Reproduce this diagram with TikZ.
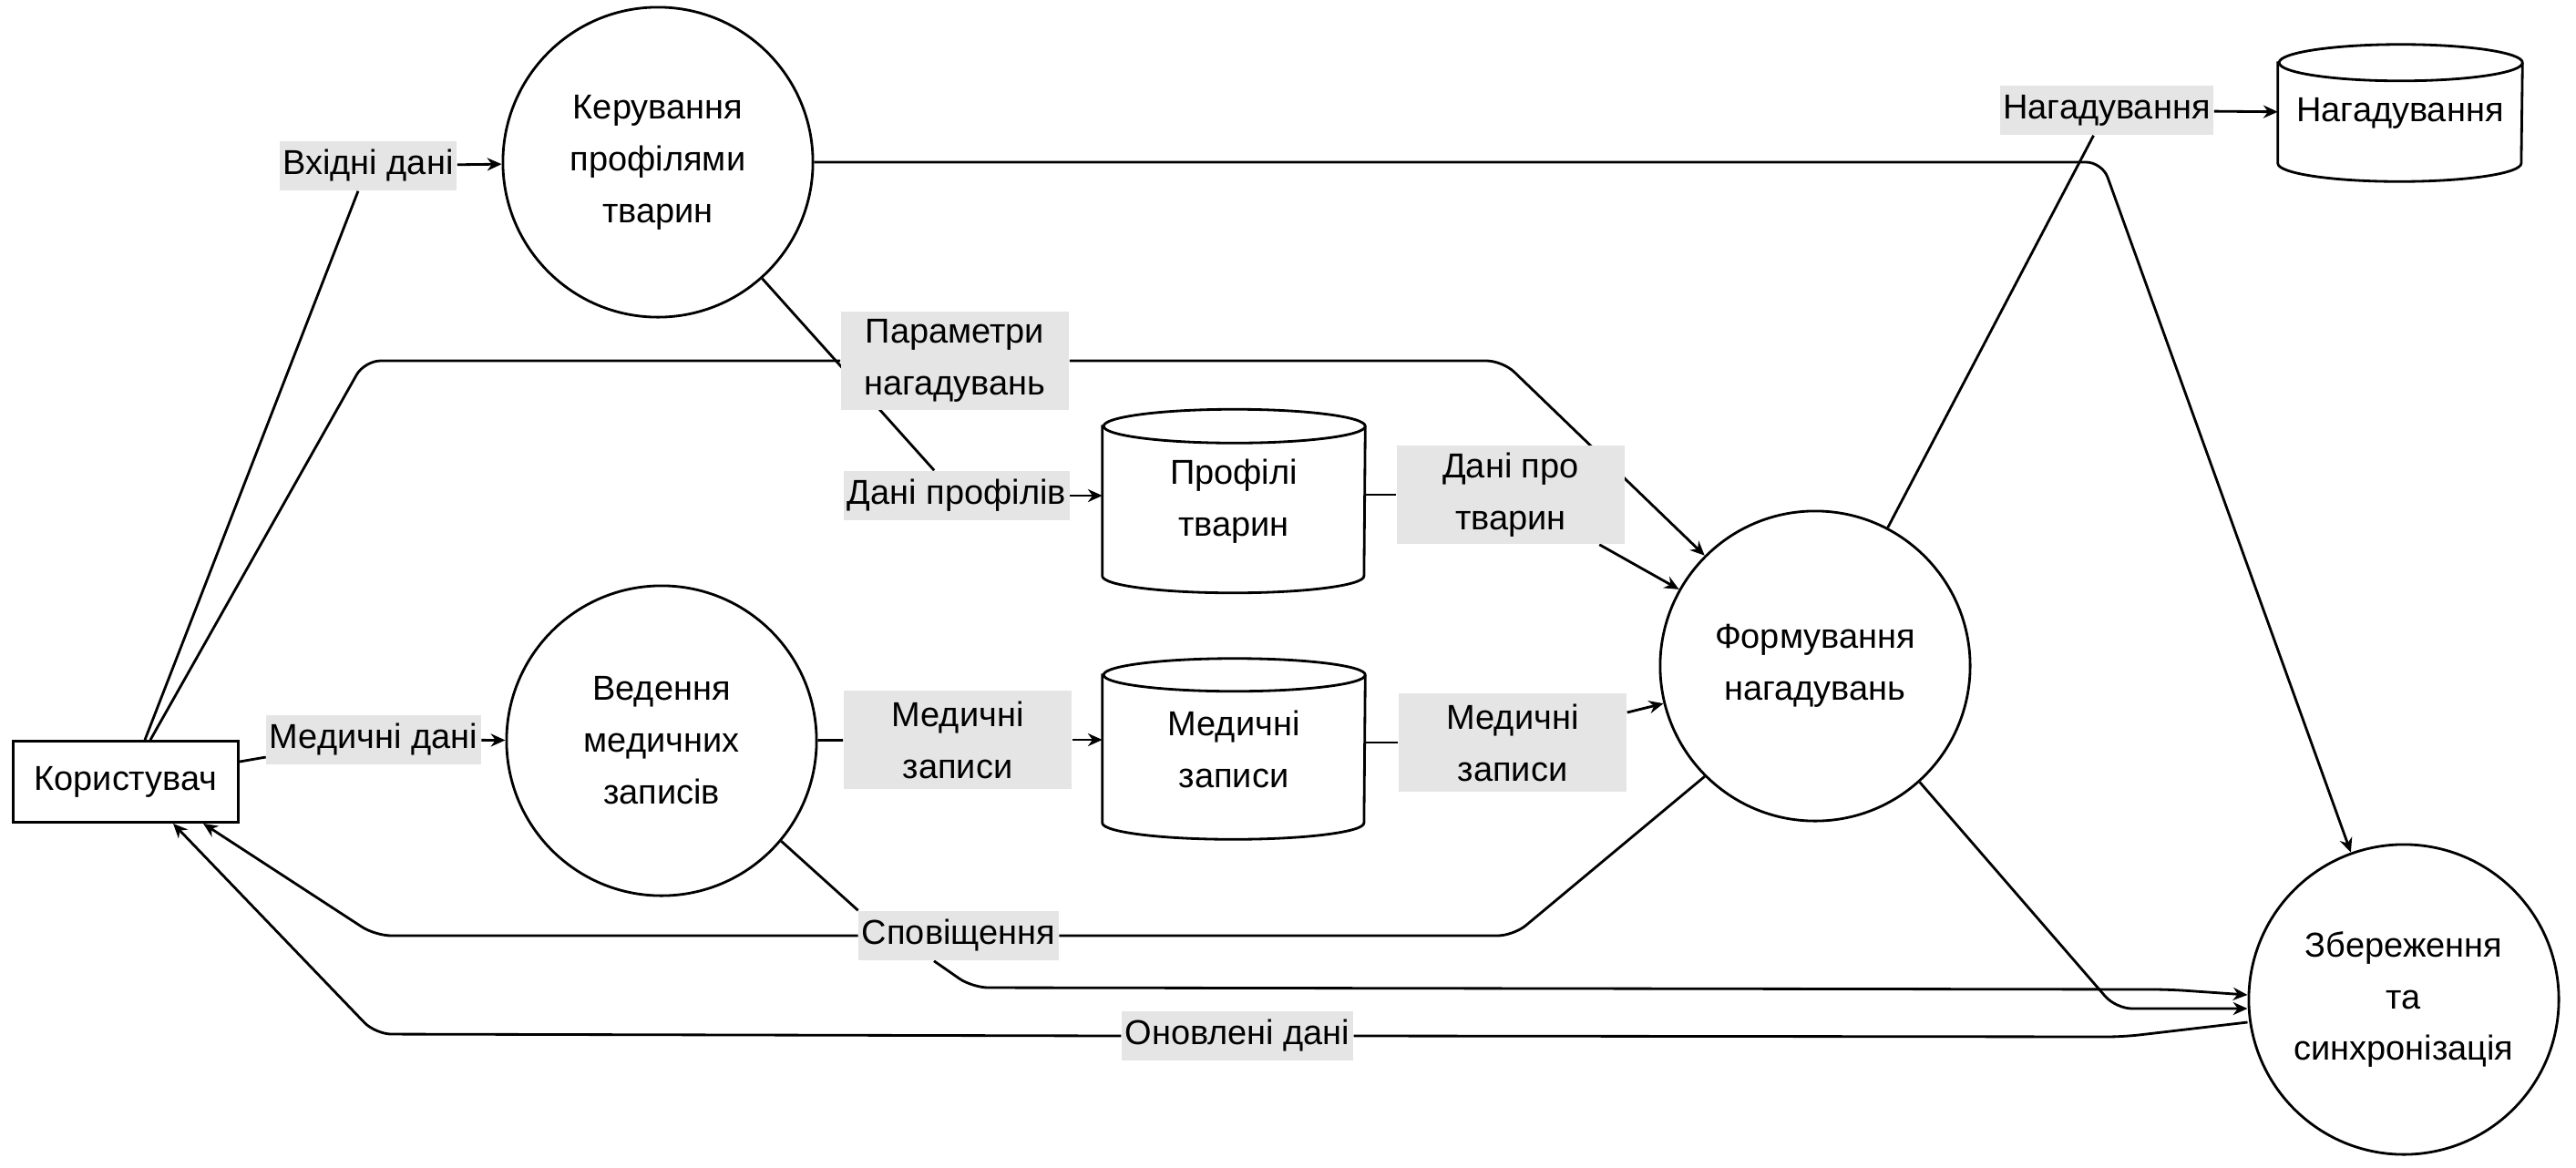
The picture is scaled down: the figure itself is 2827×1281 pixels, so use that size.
\documentclass[tikz,border=0pt]{standalone}
\usepackage{fontspec}
\setmainfont{Liberation Sans}
\usetikzlibrary{arrows.meta,backgrounds}

\begin{document}
\begin{tikzpicture}[x=0.01cm, y=-0.01cm,
    every node/.style={font=\fontsize{10.8}{16.2}\selectfont, align=center},
    proc/.style={circle, draw, line width=0.8pt, fill=white, minimum size=3.4cm, inner sep=0pt},
    actor/.style={rectangle, draw, line width=0.8pt, fill=white, minimum width=2.47cm, minimum height=0.89cm},
    store/.style={rectangle, inner sep=0pt},
    flow/.style={fill=black!10, inner xsep=1pt, inner ysep=0pt, minimum height=0.54cm},
    flowtwo/.style={flow, minimum width=2.5cm, minimum height=1.08cm},
    link/.style={line width=0.8pt, rounded corners=5pt},
    arr/.style={link, -{Stealth[length=4.5pt,width=4pt]}}]

  \useasboundingbox (0,0) rectangle (2827,1281);

  % processes
  \node[proc] (prof) at (722,178) {Керування\\профілями\\тварин};
  \node[proc] (med) at (726,813) {Ведення\\медичних\\записів};
  \node[proc] (form) at (1992,731) {Формування\\нагадувань};
  \node[proc] (sync) at (2638,1097) {Збереження\\та\\синхронізація};

  % external entity
  \node[actor] (usr) at (138,858) {Користувач};

  % data stores (body only, the drum is drawn below)
  \node[store, minimum width=2.87cm, minimum height=1.63cm] (pstore) at (1354,550) {Профілі\\тварин};
  \node[store, minimum width=2.87cm, minimum height=1.61cm] (mstore) at (1354,822) {Медичні\\записи};
  \node[store, minimum width=2.67cm, minimum height=1.09cm] (rstore) at (2634,124) {Нагадування};

  % flow labels
  \node[flow] (lin) at (404,182) {Вхідні дані};
  \node[flow] (lmed) at (410,812) {Медичні дані};
  \node[flowtwo] (lpar) at (1048,396) {Параметри\\нагадувань};
  \node[flow] (lprof) at (1050,544) {Дані профілів};
  \node[flowtwo] (lrec1) at (1051,812) {Медичні\\записи};
  \node[flowtwo] (lanim) at (1658,543) {Дані про\\тварин};
  \node[flowtwo] (lrec2) at (1660,815) {Медичні\\записи};
  \node[flow] (lnot) at (1052,1027) {Сповіщення};
  \node[flow] (lupd) at (1358,1137) {Оновлені дані};
  \node[flow] (lrem) at (2312,121) {Нагадування};

  \begin{pgfonlayer}{background}
    % store drums
    \foreach \n/\w/\r in {pstore/1.435/0.185, mstore/1.435/0.18, rstore/1.335/0.2}{
      \draw[line width=0.8pt, fill=white] (\n.north west) -- (\n.south west)
        arc[start angle=180, end angle=360, x radius=\w cm, y radius=\r cm] -- (\n.north east)
        arc[start angle=0, end angle=180, x radius=\w cm, y radius=\r cm] -- cycle;
      \draw[line width=0.8pt] (\n.north east) arc[start angle=0, end angle=-180, x radius=\w cm, y radius=\r cm];
    }
    % user input
    \draw[link] ([xshift=0.21cm]usr.north) -- ([xshift=-0.11cm]lin.south);
    \draw[arr] (lin) -- (prof);
    \draw[link] ([xshift=0.27cm]usr.north) -- (400,396) -- (lpar.west);
    \draw[arr] (lpar.east) -- (1649,396) -- (form.north west);
    \draw[link] ([yshift=0.22cm]usr.east) -- ([yshift=-0.19cm]lmed.west);
    \draw[arr] (lmed) -- (med);
    % profiles and records into the stores
    \draw[link] (prof) -- (lprof);
    \draw[arr] (lprof.east) -- (pstore.west |- lprof.east);
    \draw[link] (med) -- (lrec1);
    \draw[arr] (lrec1.east) -- (mstore.west |- lrec1.east);
    % stores feed the reminder process
    \draw[link] (pstore.east |- lanim.west) -- (lanim.west);
    \draw[arr] (lanim) -- (form);
    \draw[link] (mstore.east |- lrec2.west) -- (lrec2.west);
    \draw[arr] ([yshift=0.33cm]lrec2.east) -- (form);
    \draw[link] (form) -- (lrem);
    \draw[arr] (lrem) -- (rstore);
    \draw[arr] (prof.east) -- (2307,178) -- (sync);
    % notifications
    \draw[link] (form.south west) -- (1661,1027) -- (lnot.east);
    \draw[arr] (lnot.west) -- (412,1027) -- ([xshift=0.85cm]usr.south);
    \draw[link] (med.-40) -- (lnot.north west);
    \draw[arr] ([xshift=-0.27cm]lnot.south) -- (1067,1084) -- (2380,1086) -- ([yshift=0.05cm]sync.west);
    \draw[arr] (form.-48) -- (2322,1107) -- ([yshift=-0.1cm]sync.west);
    % updated data back to the user
    \draw[link] ([yshift=-0.25cm]sync.west) -- (2330,1138) -- (lupd.east);
    \draw[arr] (lupd.west) -- (412,1135) -- ([xshift=0.52cm]usr.south);
  \end{pgfonlayer}
\end{tikzpicture}
\end{document}
